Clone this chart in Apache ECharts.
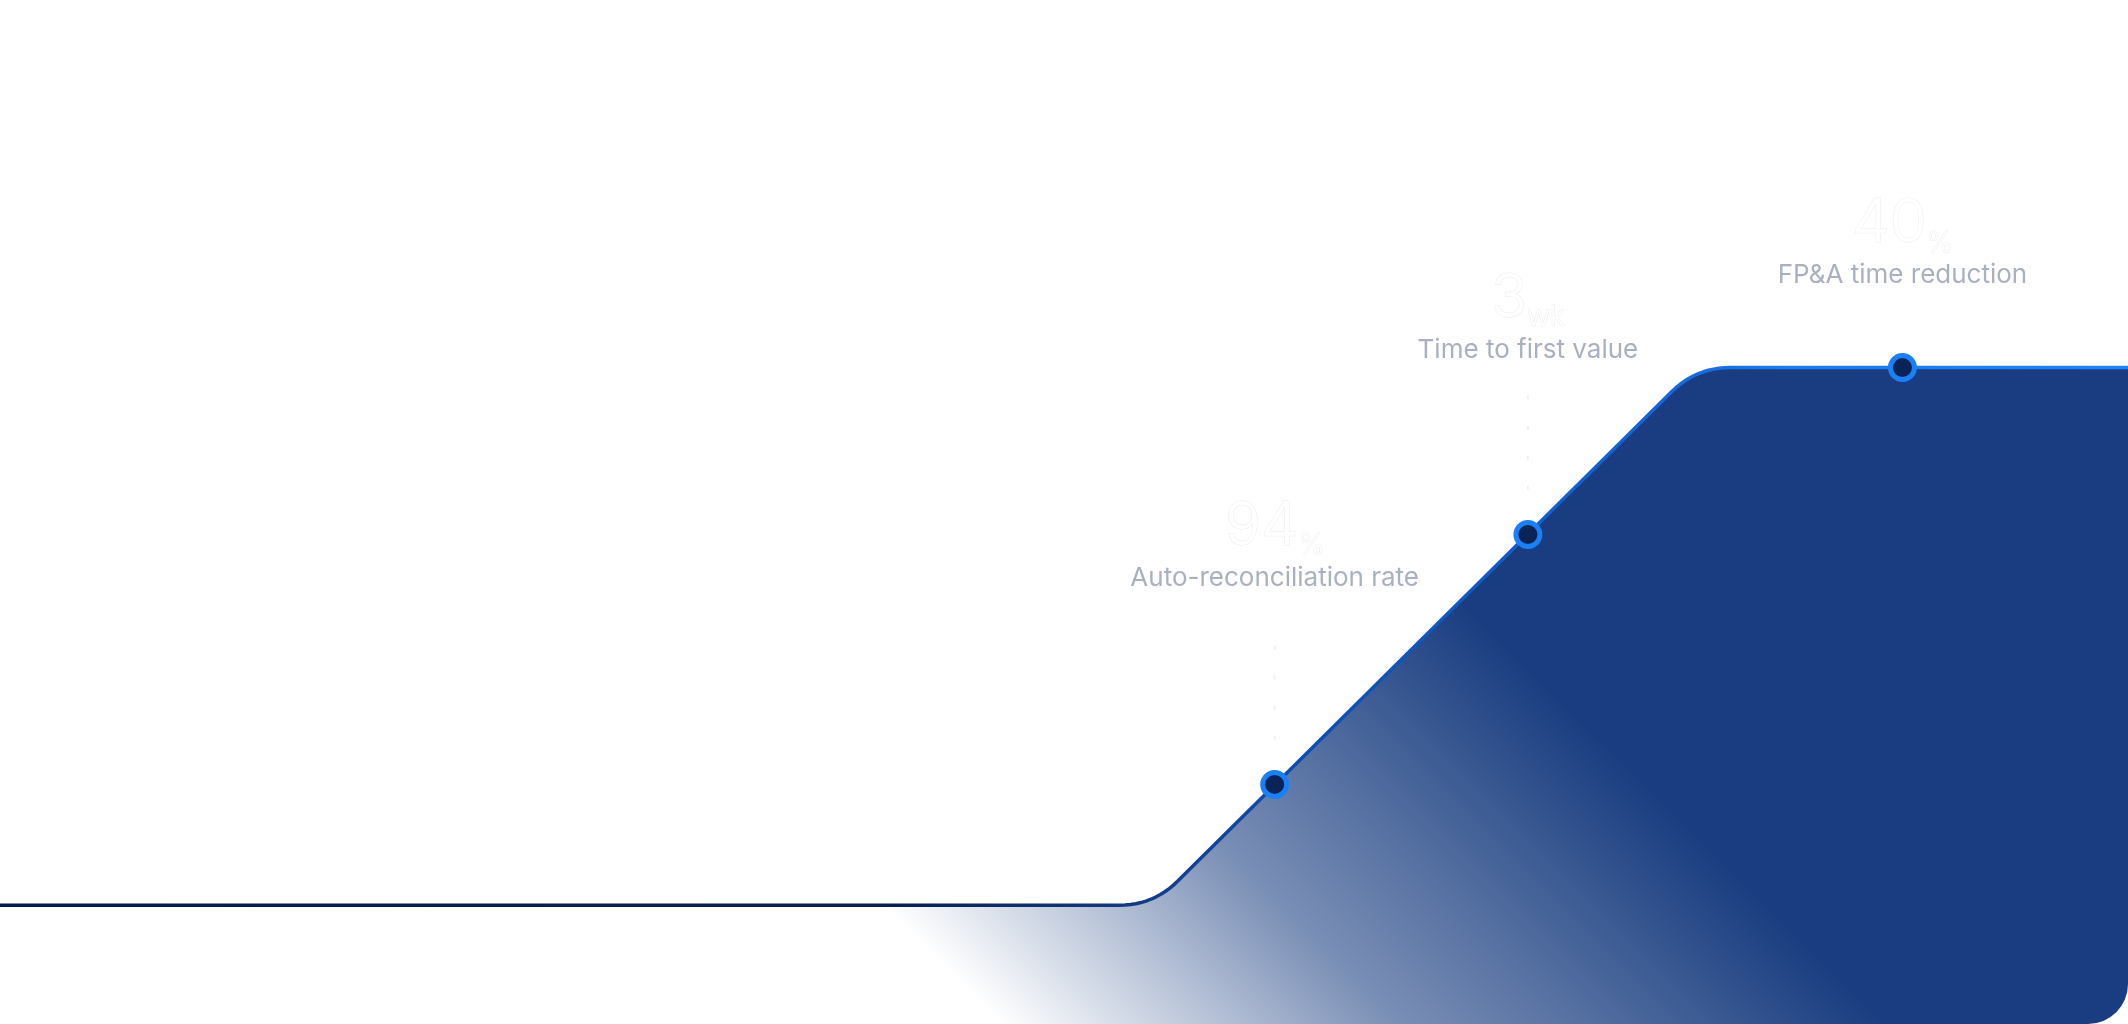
<!DOCTYPE html>
<html>
<head>
    <meta charset="utf-8">
    <title>Milestones</title>
    <script src="https://cdn.jsdelivr.net/npm/echarts@6/dist/echarts.min.js"></script>
    <style>
        html, body { margin: 0; padding: 0; background: #ffffff; }
        #card { width: 2128px; height: 1024px; border-radius: 0 40px 40px 0; overflow: hidden; background: #ffffff; }
        #chart { width: 2128px; height: 1024px; }
    </style>
</head>
<body>
<div id="card"><div id="chart"></div></div>
<script type="text/javascript">
// 曲线的折点 (x: 0-100, y: 0-100)
var curveX = [0, 54.2, 79.7, 100];
var curveY = [11.6, 11.6, 64.1, 64.1];

// 三个里程碑
var stageNames = ['Auto-reconciliation rate', 'Time to first value', 'FP&A time reduction'];
var stageX = [59.9, 71.8, 89.4];
var stageY = [23.4, 47.8, 64.1];
var stageValue = ['94', '3', '40'];
var stageUnit = ['%', 'wk', '%'];

// 样式
var labelLift = [174, 152, 60];
var fillColor = '25,61,128';

var myChart = echarts.init(document.getElementById('chart'));

// 折角处做圆角
function roundCorners(pts, r) {
    var out = [pts[0]];
    for (var i = 1; i < pts.length - 1; i++) {
        var a = pts[i - 1], p = pts[i], b = pts[i + 1];
        var da = Math.hypot(a[0] - p[0], a[1] - p[1]);
        var db = Math.hypot(b[0] - p[0], b[1] - p[1]);
        var p0 = [p[0] + (a[0] - p[0]) * r / da, p[1] + (a[1] - p[1]) * r / da];
        var p1 = [p[0] + (b[0] - p[0]) * r / db, p[1] + (b[1] - p[1]) * r / db];
        for (var k = 0; k <= 12; k++) {
            var t = k / 12, u = 1 - t;
            out.push([u * u * p0[0] + 2 * u * t * p[0] + t * t * p1[0],
                      u * u * p0[1] + 2 * u * t * p[1] + t * t * p1[1]]);
        }
    }
    out.push(pts[pts.length - 1]);
    return out;
}

function renderCurve(params, api) {
    var pts = curveX.map(function (x, i) { return api.coord([x, curveY[i]]); });
    var line = roundCorners(pts, 34);
    var bl = api.coord([curveX[0], 0]);
    var br = api.coord([curveX[curveX.length - 1], 0]);
    var area = line.concat([br, bl]);
    var corner = pts[1];
    var w = params.coordSys.width;

    var fill = new echarts.graphic.LinearGradient(
        corner[0] - 268, corner[1] + 4, corner[0] + 175, corner[1] - 440, [
            { offset: 0, color: 'rgba(' + fillColor + ',0)' },
            { offset: 0.45, color: 'rgba(' + fillColor + ',0.58)' },
            { offset: 1, color: 'rgba(' + fillColor + ',1)' }
        ], true);
    var stroke = new echarts.graphic.LinearGradient(0, 0, w, 0, [
        { offset: 0, color: '#041c4b' },
        { offset: 0.42, color: '#062052' },
        { offset: 0.53, color: '#143a84' },
        { offset: 0.6, color: '#0d4cae' },
        { offset: 0.78, color: '#1466d8' },
        { offset: 0.84, color: '#1a7bf0' },
        { offset: 1, color: '#1f82f8' }
    ], true);

    var children = [
        { type: 'polygon', shape: { points: area }, style: { fill: fill, stroke: null } },
        { type: 'polyline', shape: { points: line },
          style: { fill: null, stroke: stroke, lineWidth: 3.5, lineJoin: 'round' } }
    ];
    // 标签下方的虚线
    stageX.forEach(function (x, i) {
        if (labelLift[i] < 150) return;
        var p = api.coord([x, stageY[i]]);
        children.push({
            type: 'line',
            shape: { x1: p[0], y1: p[1] - 45, x2: p[0], y2: p[1] - 140 },
            style: { stroke: '#e9ecf1', lineWidth: 1.5, lineDash: [4, 26] }
        });
    });
    return { type: 'group', children: children };
}

var stageData = stageX.map(function (x, i) {
    return {
        value: [x, stageY[i]],
        label: {
            distance: labelLift[i],
            formatter: '{num|' + stageValue[i] + '}{unit|' + stageUnit[i] + '}\n{name|' + stageNames[i] + '}'
        }
    };
});

myChart.setOption({
    backgroundColor: '#ffffff',
    animation: false,
    grid: { left: 0, right: 0, top: 0, bottom: 0 },
    xAxis: { type: 'value', min: 0, max: 100, show: false },
    yAxis: { type: 'value', min: 0, max: 100, show: false },
    series: [{
        type: 'custom',
        coordinateSystem: 'cartesian2d',
        renderItem: renderCurve,
        data: [[0, 0]],
        silent: true,
        z: 1
    }, {
        type: 'scatter',
        data: stageData,
        symbol: 'circle',
        symbolSize: 24,
        itemStyle: { color: '#0b2458', borderColor: '#1a80f6', borderWidth: 5, opacity: 1 },
        label: {
            show: true,
            position: 'top',
            align: 'center',
            fontFamily: 'Inter',
            rich: {
                num: { fontFamily: 'Inter', fontSize: 60, fontWeight: 300, color: '#ffffff',
                       textBorderColor: 'rgba(190,197,210,0.35)', textBorderWidth: 1, lineHeight: 66 },
                unit: { fontFamily: 'Inter', fontSize: 28, fontWeight: 300, color: '#ffffff',
                        textBorderColor: 'rgba(190,197,210,0.35)', textBorderWidth: 1,
                        lineHeight: 44, verticalAlign: 'bottom' },
                name: { fontFamily: 'Inter', fontSize: 26, color: '#a9b1c0', lineHeight: 36 }
            }
        },
        z: 3
    }]
});
</script>
</body>
</html>
